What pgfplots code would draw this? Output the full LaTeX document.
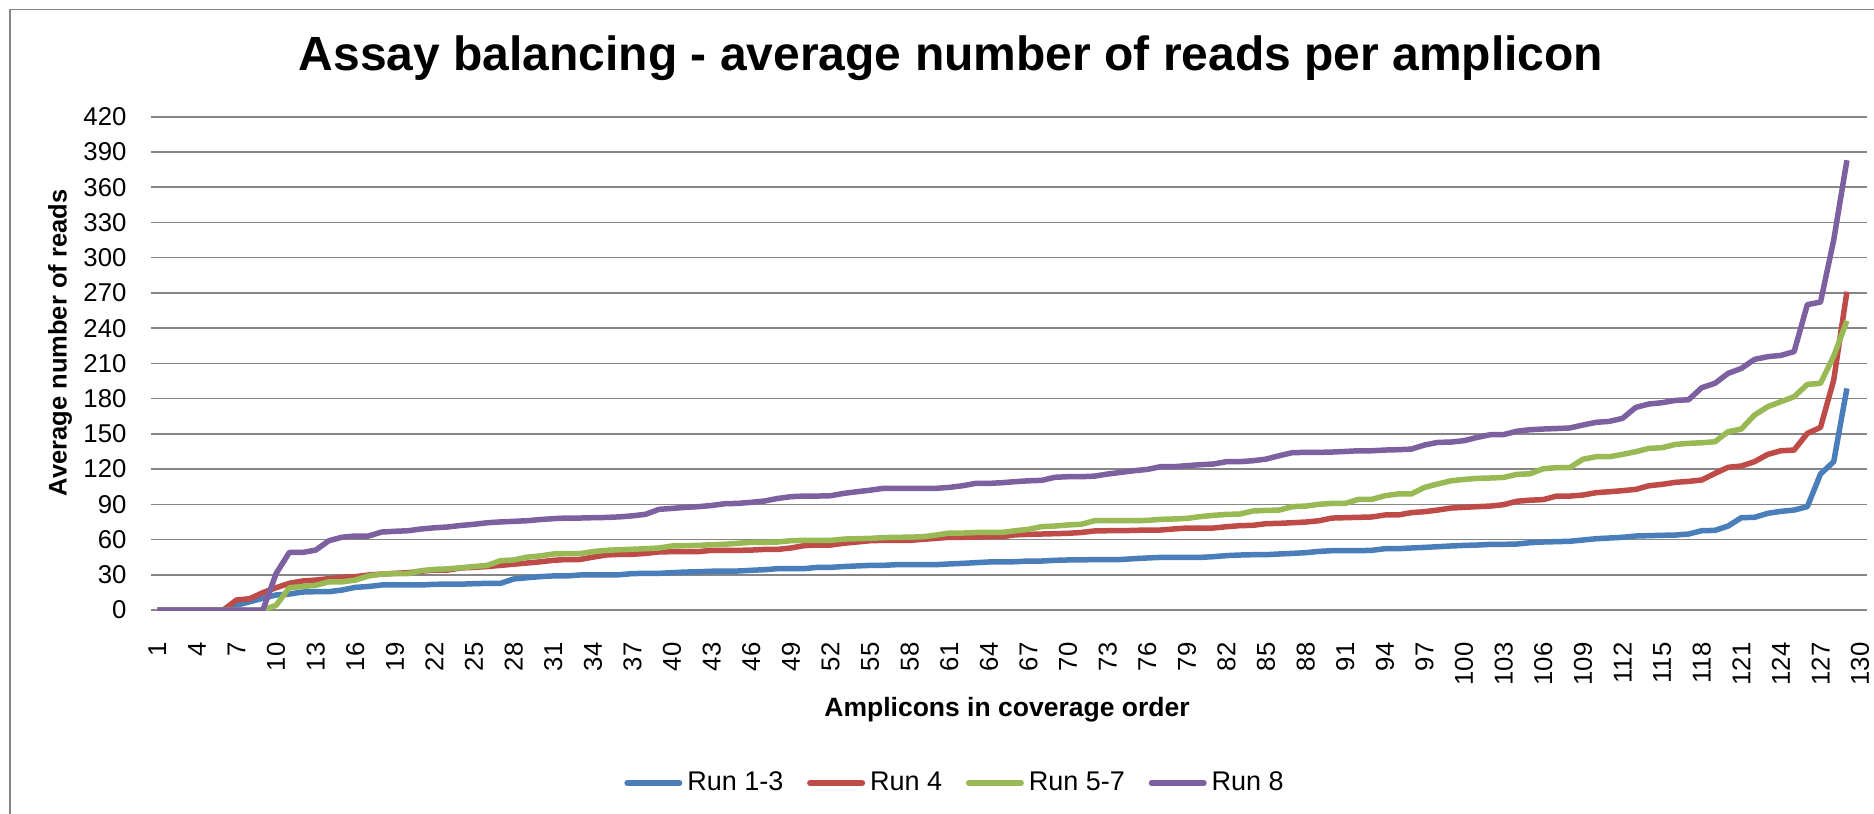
\documentclass[border=0pt]{standalone}
\usepackage{fontspec}
\setmainfont{Liberation Sans}
\usepackage{pgfplots}
\usepackage{pgfplotstable}
\pgfplotsset{compat=1.18}

\definecolor{runA}{HTML}{4A7EBB}
\definecolor{runB}{HTML}{BE4B48}
\definecolor{runC}{HTML}{98B954}
\definecolor{runD}{HTML}{7D60A0}
\definecolor{gridgray}{HTML}{868686}

% average reads per amplicon, amplicons sorted by coverage
\pgfplotstableread{
i r13 r4 r57 r8
1 0 0 0 0
2 0 0 0 0
3 0 0 0 0
4 0 0 0 0
5 0 0 0 0
6 0 0 0 0
7 4 8.5 0 0
8 7 9.6 0 0
9 10 14.8 0 0
10 12.8 19 4 31
11 13.6 22.7 19 49
12 15.3 24.7 20 49
13 15.6 25.5 21 51
14 15.6 26.7 24 59
15 17 27.8 24 62
16 19.3 28.4 25.5 63
17 20 29.8 29 63
18 21.3 30.6 30.6 66.4
19 21.3 31.2 31 67
20 21.3 31.8 31 67.5
21 21.3 33 33.5 69
22 21.9 34 34.6 70
23 22 34 35 70.7
24 22 35.8 36 72
25 22.4 36.3 37 73
26 22.7 37 38 74.3
27 22.7 38 42 75
28 26.4 39 42.6 75.5
29 27.5 40 45 76
30 28.4 41 46 77
31 29 42.3 47.7 77.8
32 29 43 48 78.3
33 29.8 43 48 78.3
34 30 45 49.7 78.6
35 30 46.8 50.8 78.8
36 30 47.4 51.3 79.3
37 31 47.4 51.7 80.2
38 31.2 48.2 52.2 81.5
39 31.2 49.4 52.8 85.7
40 31.8 49.7 54.5 86.5
41 32.3 49.7 54.8 87.4
42 32.6 49.7 55 88
43 33 50.8 55.6 89
44 33.2 50.8 56 90.5
45 33.2 50.8 56.8 90.8
46 33.8 51 57.6 91.7
47 34.3 51.6 57.6 92.8
48 35.2 51.6 57.9 95
49 35.2 52.8 59 96.5
50 35.2 54.8 59.3 97
51 36.3 55.3 59.3 97
52 36.3 55.3 59.3 97.3
53 37 56.8 60.4 99.3
54 37.5 57.9 60.7 100.7
55 38 59 61 102
56 38 59.3 61.6 103.6
57 38.6 59.3 61.9 103.6
58 38.6 59.3 62 103.6
59 38.6 60.2 62.4 103.6
60 38.6 61 63.8 103.6
61 39.2 61.9 65.5 104.4
62 39.7 61.9 65.5 105.8
63 40.3 62.1 66 107.8
64 40.9 62.4 66 107.8
65 40.9 62.4 66 108.4
66 41.1 64 67.5 109.3
67 41.7 64.4 68.7 110
68 41.7 64.7 71 110.4
69 42.3 65 71.5 113
70 42.6 65.3 72.4 113.5
71 42.6 66 73 113.5
72 43 67.3 76 114
73 43 67.5 76 115.8
74 43 67.5 76 117.2
75 43.7 67.8 76 118.6
76 44.3 68.1 76.3 119.7
77 44.8 68.1 77.2 122
78 44.8 69 77.5 122
79 44.8 69.8 78 122.9
80 44.8 69.8 79.5 123.7
81 45.4 69.8 80.6 124.3
82 46.3 70.9 81.4 126.3
83 46.8 71.8 81.7 126.3
84 47.1 72.1 84.3 127.1
85 47.1 73.5 84.8 128.5
86 47.7 73.8 85.1 131.4
87 48.2 74.3 88 134
88 48.8 74.9 88.5 134.2
89 49.9 76 90 134.2
90 50.5 78.3 90.8 134.5
91 50.5 78.6 90.8 135
92 50.5 78.9 94.2 135.6
93 50.8 79.2 94.2 135.6
94 52.2 80.9 97.3 136.2
95 52.2 80.9 98.8 136.5
96 52.8 82.9 98.8 137
97 53.3 83.7 104.4 140.5
98 53.9 85.1 107.3 142.7
99 54.5 86.8 110 143
100 55 87.4 111.2 144.2
101 55.3 88 112.1 147
102 55.9 88.5 112.4 149.3
103 55.9 89.7 112.9 149.4
104 56.2 92.6 115.5 152.2
105 57.3 93.5 116 153.5
106 57.9 94 120.3 154.1
107 58.2 97 121.2 154.5
108 58.5 97 121.2 155
109 59.6 97.9 128.4 157.5
110 60.7 99.9 130.5 159.8
111 61.3 100.7 130.5 160.6
112 61.9 101.6 132.5 163.2
113 63 102.7 134.8 172.5
114 63.3 105.8 137.6 175.4
115 63.6 107 138.2 176.5
116 63.8 108.7 141 178.5
117 64.7 109.5 141.9 179
118 67.5 110.7 142.4 189.3
119 67.8 116.3 143.3 193
120 71.5 121.5 151.8 201.5
121 78.6 122.6 154.1 205.7
122 78.9 126.3 166 213.4
123 82.3 132.5 173.1 215.7
124 84 135.6 177.4 216.8
125 85.1 136.2 181.6 220
126 88 150.4 192.1 260
127 115.8 155.5 193 262.2
128 126.3 195.8 216.2 315
129 188.7 271 246.3 383
}\reads

\begin{document}
\begin{tikzpicture}
  \useasboundingbox (0pt,0pt) rectangle (749.6pt,-325.6pt);
  % chart area frame
  \draw[gridgray, line width=0.5pt] (4pt,-325.6pt) -- (4pt,-3.72pt) -- (749.6pt,-3.72pt);

  \begin{axis}[
    at={(60.28pt,-244pt)}, anchor=south west,
    scale only axis, width=686.4pt, height=197.3pt,
    xmin=0.5, xmax=130.5, ymin=0, ymax=420,
    xtick={1,4,...,130}, ytick={0,30,...,420},
    axis line style={draw=none},
    tick style={draw=none}, major tick length=0pt,
    ymajorgrids, grid style={gridgray, line width=0.6pt},
    /pgf/number format/assume math mode=true,
    yticklabel style={font=\fontsize{10.3pt}{12pt}\selectfont, anchor=east, inner sep=0pt, xshift=-9.5pt},
    xticklabel style={font=\fontsize{10.3pt}{12pt}\selectfont, yshift=-12.8pt, rotate=90, anchor=east, inner sep=0pt},
    legend columns=4,
    legend style={at={(0.4696,-0.3507)}, anchor=center, draw=none, fill=none,
      font=\fontsize{10.8pt}{12pt}\selectfont, inner sep=0pt,
      nodes={inner xsep=2pt, inner ysep=0pt},
      /tikz/every even column/.append style={column sep=7.5pt}},
    legend image code/.code={\draw[#1, line width=2.2pt, line cap=round] (0pt,0pt) -- (21pt,0pt);},
    every axis plot/.append style={line width=2.2pt, line join=round, no markers},
  ]
    \addplot[runA] table[x=i, y=r13] {\reads};
    \addlegendentry{Run 1-3}
    \addplot[runB] table[x=i, y=r4] {\reads};
    \addlegendentry{Run 4}
    \addplot[runC] table[x=i, y=r57] {\reads};
    \addlegendentry{Run 5-7}
    \addplot[runD] table[x=i, y=r8] {\reads};
    \addlegendentry{Run 8}
  \end{axis}

  \node[anchor=base, font=\fontsize{19.2pt}{23pt}\selectfont\bfseries] at (380.4pt,-28.4pt)
    {Assay balancing - average number of reads per amplicon};
  \node[anchor=base, font=\fontsize{10.6pt}{12pt}\selectfont\bfseries] at (402.8pt,-286.8pt)
    {Amplicons in coverage order};
  \node[rotate=90, anchor=center, font=\fontsize{10.2pt}{12pt}\selectfont\bfseries] at (24pt,-137.2pt)
    {Average number of reads};
\end{tikzpicture}
\end{document}
